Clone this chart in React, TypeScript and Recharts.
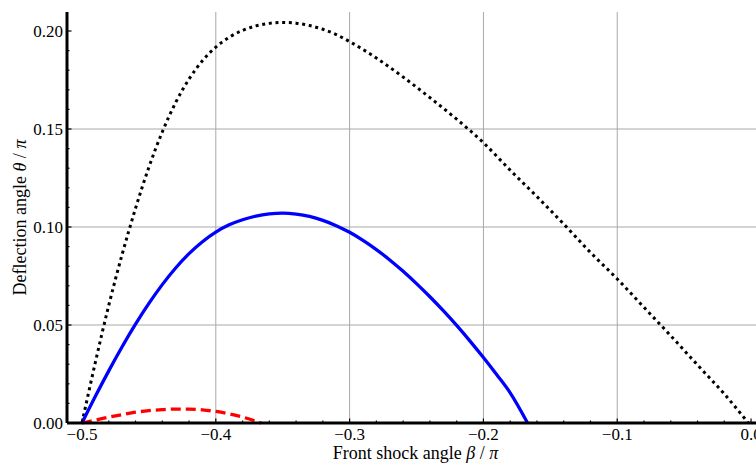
import { LineChart, Line, XAxis, YAxis, CartesianGrid, Label } from 'recharts';

// black dotted curve
const blackBeta = [-0.5, -0.49, -0.48, -0.47, -0.46, -0.45, -0.44, -0.43, -0.42, -0.41, -0.4, -0.39, -0.38, -0.37, -0.36, -0.35, -0.34, -0.33, -0.32, -0.31, -0.3, -0.28, -0.26, -0.24, -0.22, -0.2, -0.18, -0.16, -0.14, -0.12, -0.1, -0.08, -0.06, -0.04, -0.02, -0.002];
const blackTheta = [0, 0.031, 0.06, 0.086, 0.1095, 0.1305, 0.1485, 0.1635, 0.1755, 0.1848, 0.1918, 0.1968, 0.2003, 0.2026, 0.2039, 0.2044, 0.204, 0.2028, 0.2009, 0.1982, 0.1946, 0.1862, 0.1765, 0.166, 0.155, 0.143, 0.129, 0.1155, 0.1015, 0.087, 0.0735, 0.059, 0.0445, 0.0296, 0.0148, 0];

// blue solid curve
const blueBeta = [-0.5, -0.49, -0.48, -0.47, -0.46, -0.45, -0.44, -0.43, -0.42, -0.41, -0.4, -0.39, -0.38, -0.37, -0.36, -0.35, -0.34, -0.33, -0.32, -0.31, -0.3, -0.29, -0.28, -0.27, -0.26, -0.25, -0.24, -0.23, -0.22, -0.21, -0.2, -0.19, -0.18, -0.167];
const blueTheta = [0, 0.0136, 0.0266, 0.0389, 0.0504, 0.061, 0.0706, 0.0791, 0.0864, 0.0925, 0.0974, 0.1011, 0.1037, 0.1056, 0.1067, 0.1071, 0.1066, 0.1054, 0.1034, 0.1007, 0.0973, 0.0932, 0.0885, 0.0832, 0.0774, 0.0711, 0.0644, 0.0573, 0.0498, 0.0418, 0.0334, 0.0246, 0.0154, 0];

// red dashed curve
const redBeta = [-0.5, -0.49, -0.48, -0.47, -0.46, -0.45, -0.44, -0.43, -0.42, -0.41, -0.4, -0.39, -0.38, -0.366];
const redTheta = [0, 0.0015, 0.003, 0.0043, 0.0055, 0.0063, 0.0068, 0.0071, 0.0071, 0.0067, 0.0059, 0.0047, 0.003, 0];

const xMajor = [-0.5, -0.4, -0.3, -0.2, -0.1, 0.0];
const xLabels = ['\u22120.5', '\u22120.4', '\u22120.3', '\u22120.2', '\u22120.1', '0.0'];
const xMinor = [-0.48, -0.46, -0.44, -0.42, -0.38, -0.36, -0.34, -0.32, -0.28, -0.26, -0.24, -0.22, -0.18, -0.16, -0.14, -0.12, -0.08, -0.06, -0.04, -0.02];
const xGrid = [-0.4, -0.3, -0.2, -0.1];

const yMajor = [0, 0.05, 0.1, 0.15, 0.2];
const yLabels = ['0.00', '0.05', '0.10', '0.15', '0.20'];
const yMinor = [0.01, 0.02, 0.03, 0.04, 0.06, 0.07, 0.08, 0.09, 0.11, 0.12, 0.13, 0.14, 0.16, 0.17, 0.18, 0.19];
const yGrid = [0.05, 0.1, 0.15];

const xDomain = [-0.5112, 0.0037];
const yDomain = [0, 0.2097];

const toPts = (xs: number[], ys: number[]) => xs.map((x, i) => ({ x, y: ys[i] }));
const blackData = toPts(blackBeta, blackTheta);
const blueData = toPts(blueBeta, blueTheta);
const redData = toPts(redBeta, redTheta);

const xTicks = [...xMajor, ...xMinor].sort((a, b) => a - b);
const yTicks = [...yMajor, ...yMinor].sort((a, b) => a - b);

const FONT = "'Liberation Serif', 'Times New Roman', serif";

function majorIndex(list: number[], v: number) {
  return list.findIndex((m) => Math.abs(m - v) < 1e-9);
}

function BottomTick(props: any) {
  const { x, y, payload } = props;
  const i = majorIndex(xMajor, payload.value);
  const len = i >= 0 ? 4.5 : 2.5;
  return (
    <g>
      <line x1={x} x2={x} y1={y} y2={y - len} stroke="#000" strokeWidth={1.2} />
      {i >= 0 && (
        <text x={x} y={y + 17} textAnchor="middle" style={{ fontFamily: FONT }} fontSize={17} fill="#000">
          {xLabels[i]}
        </text>
      )}
    </g>
  );
}

function TopTick(props: any) {
  const { x, y, payload } = props;
  const len = majorIndex(xMajor, payload.value) >= 0 ? 4.5 : 2.5;
  return <line x1={x} x2={x} y1={y} y2={y + len} stroke="#000" strokeWidth={1.2} />;
}

function LeftTick(props: any) {
  const { x, y, payload } = props;
  const i = majorIndex(yMajor, payload.value);
  const len = i >= 0 ? 4.5 : 2.5;
  return (
    <g>
      <line x1={x} x2={x + len} y1={y} y2={y} stroke="#000" strokeWidth={1.2} />
      {i >= 0 && (
        <text x={x - 4} y={y} dy="0.35em" textAnchor="end" style={{ fontFamily: FONT }} fontSize={17} fill="#000">
          {yLabels[i]}
        </text>
      )}
    </g>
  );
}

function XTitle(props: any) {
  const { x, y, width } = props.viewBox;
  return (
    <text x={x + width / 2 + 4} y={y + 36} textAnchor="middle" style={{ fontFamily: FONT }} fontSize={18} fill="#000">
      Front shock angle <tspan fontStyle="italic">β</tspan> / <tspan fontStyle="italic">π</tspan>
    </text>
  );
}

function YTitle(props: any) {
  const { y, height } = props.viewBox;
  const cy = y + height / 2;
  return (
    <text x={26} y={cy} transform={`rotate(-90, 26, ${cy})`} textAnchor="middle" style={{ fontFamily: FONT }} fontSize={18} fill="#000">
      Deflection angle <tspan fontStyle="italic">θ</tspan> / <tspan fontStyle="italic">π</tspan>
    </text>
  );
}

export default function App() {
  return (
    <div style={{ position: 'absolute', left: 0, top: 0, width: 756, height: 466, overflow: 'hidden', background: '#fff' }}>
      <LineChart width={756} height={466} margin={{ top: 12, right: 0, bottom: 0, left: 0 }}>
        <CartesianGrid horizontalValues={yGrid} verticalValues={xGrid} stroke="#a8a8a8" strokeWidth={1} />
        <XAxis
          type="number"
          dataKey="x"
          domain={xDomain}
          ticks={xTicks}
          interval={0}
          tick={BottomTick}
          tickLine={false}
          tickSize={0}
          tickMargin={0}
          height={43}
          axisLine={{ stroke: '#000', strokeWidth: 3 }}
        >
          <Label content={XTitle} />
        </XAxis>
        <XAxis
          xAxisId="top"
          orientation="top"
          type="number"
          dataKey="x"
          domain={xDomain}
          ticks={xTicks}
          interval={0}
          tick={TopTick}
          tickLine={false}
          tickSize={0}
          tickMargin={0}
          height={0}
          axisLine={{ stroke: '#000', strokeWidth: 2.5 }}
        />
        <YAxis
          type="number"
          domain={yDomain}
          ticks={yTicks}
          interval={0}
          tick={LeftTick}
          tickLine={false}
          tickSize={0}
          tickMargin={0}
          width={67}
          axisLine={{ stroke: '#000', strokeWidth: 3 }}
        >
          <Label content={YTitle} />
        </YAxis>
        <Line
          data={blackData}
          dataKey="y"
          type="monotone"
          stroke="#000"
          strokeWidth={3}
          strokeDasharray="3 3.7"
          dot={false}
          isAnimationActive={false}
        />
        <Line
          data={blueData}
          dataKey="y"
          type="monotone"
          stroke="#0000ff"
          strokeWidth={3.3}
          dot={false}
          isAnimationActive={false}
        />
        <Line
          data={redData}
          dataKey="y"
          type="monotone"
          stroke="#ff0000"
          strokeWidth={3.3}
          strokeDasharray="10 5"
          dot={false}
          isAnimationActive={false}
        />
      </LineChart>
    </div>
  );
}
